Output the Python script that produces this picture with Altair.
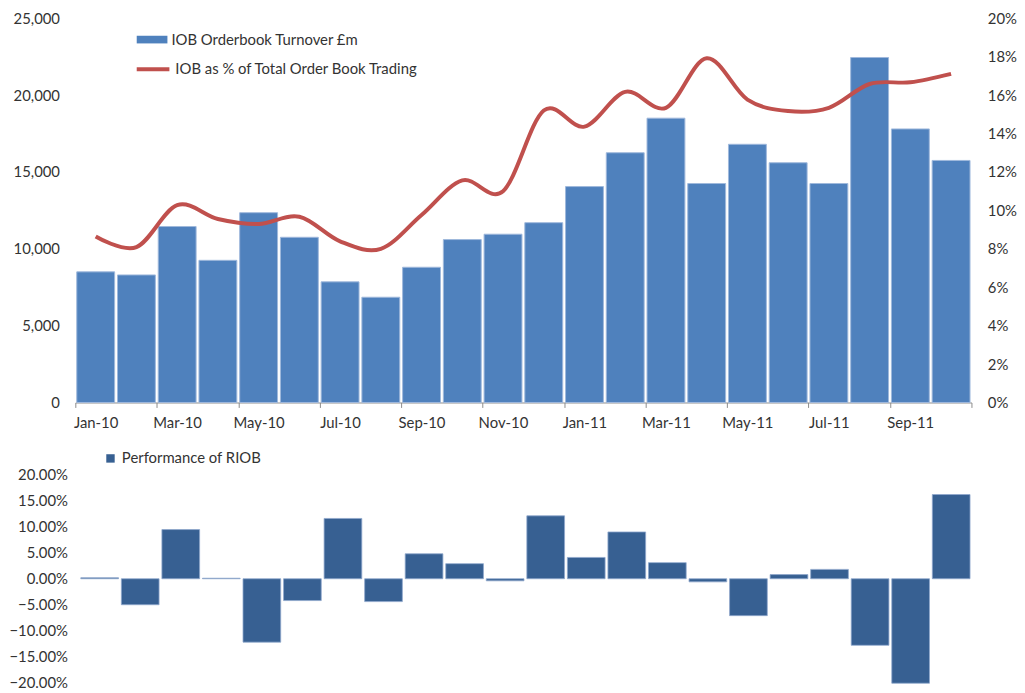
import altair as alt
import pandas as pd

months = ["Jan-10", "Feb-10", "Mar-10", "Apr-10", "May-10", "Jun-10", "Jul-10", "Aug-10",
          "Sep-10", "Oct-10", "Nov-10", "Dec-10", "Jan-11", "Feb-11", "Mar-11", "Apr-11",
          "May-11", "Jun-11", "Jul-11", "Aug-11", "Sep-11", "Oct-11"]
turnover = [8500, 8300, 11450, 9250, 12350, 10750, 7850, 6850, 8800, 10600, 10950,
            11700, 14050, 16250, 18500, 14250, 16800, 15600, 14250, 22450, 17800, 15750]
iob_share = [0.0864, 0.0809, 0.1027, 0.0955, 0.0929, 0.0967, 0.0839, 0.0800, 0.0976,
             0.1156, 0.1100, 0.1520, 0.1436, 0.1617, 0.1534, 0.1792, 0.1577, 0.1517,
             0.1534, 0.1658, 0.1667, 0.1711]
riob = [0.002, -0.050, 0.0946, 0.001, -0.122, -0.042, 0.116, -0.044, 0.048, 0.029, -0.004,
        0.121, 0.041, 0.090, 0.031, -0.006, -0.071, 0.008, 0.018, -0.128, -0.201, 0.162]

BAR_NAME = "IOB Orderbook Turnover £m"
LINE_NAME = "IOB as % of Total Order Book Trading"
PERF_NAME = "Performance of RIOB"

df = pd.DataFrame({
    "idx": list(range(len(months))),
    "month": months,
    "turnover": turnover,
    "share": iob_share,
    "riob": riob,
})

FONT = "Lato"
FS = 15
TXT = "#333333"
label_js = "[" + ",".join("'%s'" % m for m in months) + "]"
label_expr = f"datum.value % 2 == 0 && datum.value < 22 ? {label_js}[datum.value] : ''"

xscale_top = alt.Scale(domain=[0, 22], nice=False, zero=False)
xscale_bot = alt.Scale(domain=[-0.1, 22], nice=False, zero=False)

base = alt.Chart(df).transform_calculate(
    x0="datum.idx + 0.035",
    x1="datum.idx + 0.965",
    xc="datum.idx + 0.5",
    s1=f"'{BAR_NAME}'",
    s2=f"'{LINE_NAME}'",
    s3=f"'{PERF_NAME}'",
)

x_axis = alt.Axis(
    values=list(range(0, 23, 2)), labelExpr=label_expr, labelOffset=20.5,
    grid=False, domainColor="#8c8c8c", tickColor="#8c8c8c", tickSize=5,
    labelPadding=8, labelFontSize=FS, labelFont=FONT, labelColor=TXT, title=None,
    labelAngle=0, labelFlush=False, labelOverlap=False,
)

bars = base.mark_bar(stroke="#9fb8dc", strokeWidth=1).encode(
    x=alt.X("x0:Q", scale=xscale_top, axis=x_axis),
    x2="x1:Q",
    y=alt.Y("turnover:Q", scale=alt.Scale(domain=[0, 25000], nice=False),
            axis=alt.Axis(values=list(range(0, 25001, 5000)), format=",.0f", grid=False,
                          domain=False, ticks=False, labelPadding=16, labelFontSize=FS,
                          labelFont=FONT, labelColor=TXT, title=None)),
    y2=alt.datum(0),
    fill=alt.Fill("s1:N", scale=alt.Scale(domain=[BAR_NAME], range=["#4F81BD"]),
                  legend=alt.Legend(orient="none", legendX=62, legendY=6, title=None,
                                    symbolType="M-1,-0.25H1V0.25H-1Z", symbolSize=961,
                                    symbolStrokeWidth=0, labelFontSize=FS, labelFont=FONT,
                                    labelColor=TXT, padding=0, labelOffset=4,
                                    labelLimit=500)),
)

line = base.mark_line(strokeWidth=4, interpolate="cardinal").encode(
    x=alt.X("xc:Q", scale=xscale_top, axis=x_axis),
    y=alt.Y("share:Q", scale=alt.Scale(domain=[0, 0.2], nice=False),
            axis=alt.Axis(orient="right", values=[i / 100 for i in range(0, 21, 2)],
                          format=".0%", grid=False, domain=False, ticks=False,
                          labelPadding=16, labelFontSize=FS, labelFont=FONT,
                          labelColor=TXT, title=None)),
    stroke=alt.Stroke("s2:N", scale=alt.Scale(domain=[LINE_NAME], range=["#C0504D"]),
                      legend=alt.Legend(orient="none", legendX=60, legendY=33, title=None,
                                        symbolType="stroke", symbolSize=1089,
                                        symbolStrokeWidth=4, labelFontSize=FS,
                                        labelFont=FONT, labelColor=TXT, padding=0,
                                        labelOffset=4, labelLimit=500)),
)

top = alt.layer(bars, line).resolve_scale(y="independent").properties(width=905, height=388)

bottom = base.mark_bar(stroke="#8fa8cc", strokeWidth=0.8).encode(
    x=alt.X("x0:Q", scale=xscale_bot, axis=None),
    x2="x1:Q",
    y=alt.Y("riob:Q", scale=alt.Scale(domain=[-0.2, 0.2], nice=False),
            axis=alt.Axis(values=[-0.2, -0.15, -0.1, -0.05, 0, 0.05, 0.1, 0.15, 0.2],
                          format=".2%", grid=False, domain=False, ticks=False,
                          labelPadding=8, labelFontSize=FS, labelFont=FONT,
                          labelColor=TXT, title=None)),
    y2=alt.datum(0),
    fill=alt.Fill("s3:N", scale=alt.Scale(domain=[PERF_NAME], range=["#376092"]),
                  legend=alt.Legend(orient="none", legendX=28, legendY=-24, title=None,
                                    symbolType="square", symbolSize=72,
                                    symbolStrokeWidth=0, labelFontSize=FS, labelFont=FONT,
                                    labelColor=TXT, padding=0, labelOffset=4,
                                    labelLimit=500)),
).properties(width=905, height=210)

chart = alt.vconcat(top, bottom, spacing=21).resolve_scale(
    fill="independent"
).configure_view(stroke=None).properties(
    padding={"left": 0, "top": 0, "right": 0, "bottom": 0}
)

chart.save("out.html", embed_options={"renderer": "svg", "actions": False})
